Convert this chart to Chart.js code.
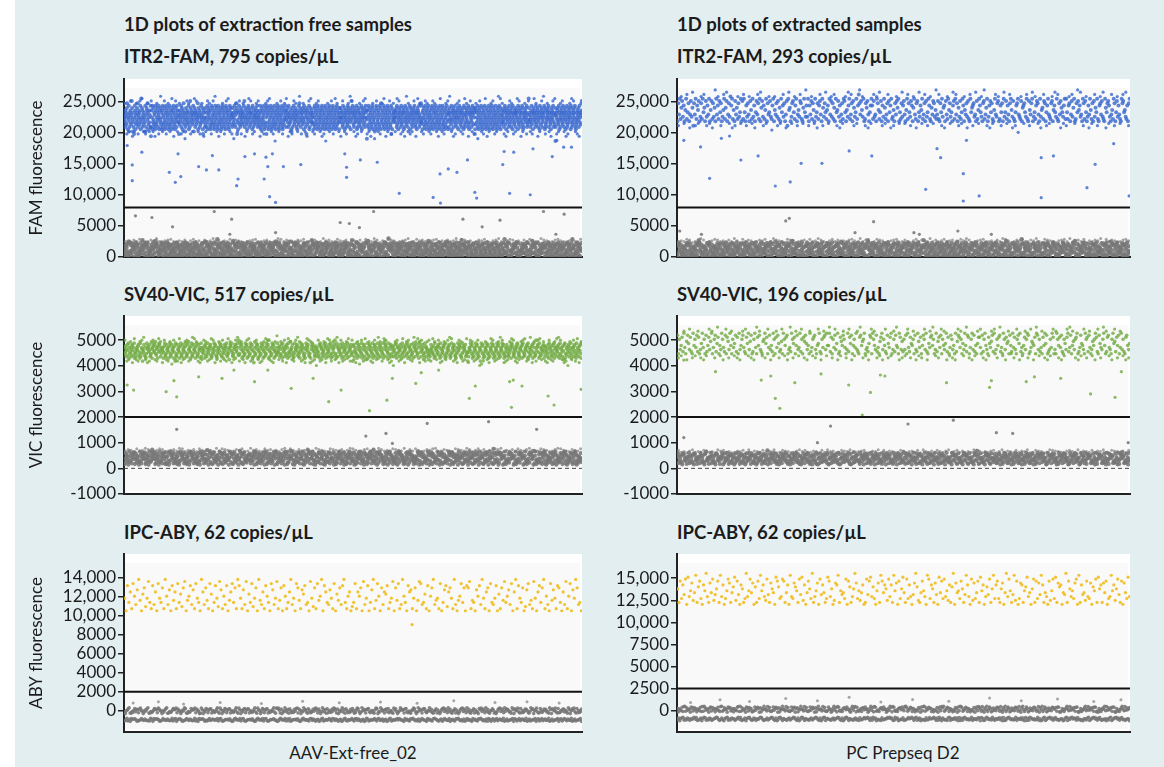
<!DOCTYPE html>
<html>
<head>
<meta charset="utf-8">
<script src="https://cdn.jsdelivr.net/npm/chart.js@4.4.1/dist/chart.umd.min.js"></script>
<style>
  body { margin: 0; background: #fff; font-family: Lato, "DejaVu Sans", sans-serif; }
  #page { position: relative; width: 1164px; height: 767px; overflow: hidden; }
  #bg { position: absolute; left: 15px; top: 0; right: 0; bottom: 0; background: #e3eef1; }
  .hd { position: absolute; font: 700 18.5px/22px Lato, sans-serif; color: #1b1b1b; white-space: nowrap; }
  .xl { position: absolute; font: 400 17px/20px Lato, sans-serif; color: #1b1b1b; white-space: nowrap; transform: translateX(-50%); }
  canvas { position: absolute; }
</style>
</head>
<body>
<div id="page">
  <div id="bg"></div>
  <div class="hd" style="left:124px;top:13px">1D plots of extraction free samples</div>
  <div class="hd" style="left:677px;top:13px">1D plots of extracted samples</div>
  <div class="hd" style="left:124px;top:45px">ITR2-FAM, 795 copies/µL</div>
  <div class="hd" style="left:677px;top:45px">ITR2-FAM, 293 copies/µL</div>
  <div class="hd" style="left:124px;top:283px">SV40-VIC, 517 copies/µL</div>
  <div class="hd" style="left:677px;top:283px">SV40-VIC, 196 copies/µL</div>
  <div class="hd" style="left:124px;top:521px">IPC-ABY, 62 copies/µL</div>
  <div class="hd" style="left:677px;top:521px">IPC-ABY, 62 copies/µL</div>
  <div class="xl" style="left:353px;top:743px">AAV-Ext-free_02</div>
  <div class="xl" style="left:903px;top:743px">PC Prepseq D2</div>
  <canvas id="c0"></canvas><canvas id="c1"></canvas>
  <canvas id="c2"></canvas><canvas id="c3"></canvas>
  <canvas id="c4"></canvas><canvas id="c5"></canvas>
</div>
<script>
// droplet index span of every well
const W = 1000;

// axis ticks
const famTicks = [0, 5000, 10000, 15000, 20000, 25000];
const vicTicks = [-1000, 0, 1000, 2000, 3000, 4000, 5000];
const abyFreeTicks = [0, 2000, 4000, 6000, 8000, 10000, 12000, 14000];
const abyExtTicks = [0, 2500, 5000, 7500, 10000, 12500, 15000];
const yRanges = [[0, 28700], [0, 28700], [-1000, 5940], [-1000, 5940], [-2240, 16520], [-2450, 17750]];
const thresholds = [8000, 8000, 2000, 2000, 2000, 2500];

// droplet bands: one letter per droplet, 'a' = lowest level, each next letter one step up
const bandLevels = {
  famFreePos: [17180, 380], famExtPos: [18660, 360], famFreeNeg: [0, 124], famExtNeg: [0, 124],
  vicFreePos: [3778, 58], vicExtPos: [3750, 80], vicFreeNeg: [140, 27], vicExtNeg: [150, 24],
  abyFreePos: [9220, 220], abyExtPos: [10720, 220],
  abyFreeNegHi: [-300, 32], abyFreeNegLo: [-1120, 17], abyExtNegHi: [-200, 35], abyExtNegLo: [-1170, 21]
};

const famFreePos = [
  'nopkrmqlsuojpntikqmrolpvsniqkmhotrjplnqsmukoprlqntjmwoskrpnlqiomtikpsrnuqjlomrpktg',
  'krojtmsnlqpkjtrmlosnqkptjromnslqjkrtpomlsjnqktrpmolsjqnktprlmojsqnkrtpmljosqnktrpm',
  'omhrlpqntkosmjrpuqlnoiksmqprnlotjqmkvspnrolqmtpinsqkrolpmqnujsoprkmlqtonpsjhmrqokn',
  'sloqkmtjrpnsqolkjrmtnpsloqkjmrtpnlsoqkjtmrpnlsqojkmtrnpslqokjmtrnspqlokjmrtnspqolk',
  'psqmontlrkpqushmnjqrtlopkmsqnrolpqtmvkosnrpljqmotsnkrpqlomqsjtnkpromlqspnortkmqlo',
  'pnrtkjmqslonrptkjmqlsohrtpkmjqslnortpkjmqslonrtkpmjqlsonrtpkjmqslonrptkjmqslnortpk',
  'nrqomsktplqonmrjispkoqtnlrmpsoqknjrpmltouqsnkrmpqolsnjtrmqokphslrnqomtjkpsqnrmolp',
  'mqjsotklrnpmqjstoklrnpmqjsotkrlnpmqjstoklrnpmjqsotklrnpmqjsotklrnpmqjsoktlrnpmqjso',
  'msoqnrpkltomqsjnprkoqmltsnrpkqomjsvnrqtpolkmsqrnpotjmkqsrnlopqmktsjnorpqlmskotqnrf',
  'orlktpsjnmqorlktpsjnmqoirlktpsjnmqorlktpsjunmqorlktpsjnmqorlktpsjnmqorlkthpsjnmqor',
  'qnopmrsktlqojnpmsrqkotlnpmqsrjkoqtnmplsrokqinmptjsoqrlnkpmsqotrnlkpqjmsorqntkplomu',
  'tmnqjrolspktnmqjrlospktmnqjrolpsktmnjqrolspktmqnjrolspkmtnqjrolsptkmnqjrloskptmnqj',
  'rkpqsnomltjqrnpskomqtrlnpokqsmjrotnpqlskmrqonpjtsklqmpornsqktmljpqrsonkmqtplrsoqh',
  'jslrmoqtknpjsrlmoqtknpjslrmqotknpjslrmoqktnpjslrmoqtknjpslrmoqtknpjlsrmoqtknpjslrm',
  'opqnmkrstloqjpnrmsqkotlpnrqmksojtqpnlrmqskopqrnjtmlsoqkprnmqtsljokpqnrmsoqtkplnmw',
  'sqnpkomrtlqnjspqormkntlqpsorkmnqjtpolsrqkmnopqtsjrklmonqpsrtkoqnmljpsqrontkmqplse',
  'kpqonrsmltqjnpkorsqmnltpqkosrnjmqptklosnrqmpojtskqnlmrpoqstknjlmqorpsnkqtmolprqv'
];
const famFreePosEdge = [
  'uhivgiuhvwihuiviguhxivhuiwgviuhifvuhiwvihugivuhvxigiuhvwihfuivhugiwvhiuvgihuvwiheu',
  'ivhuwgihvuixhuigvwihuvigheuivhwuigvihuxvighuivwhigufvihuwgivhuiwvhigxuhivgwuihvui',
  'hvuigwihuvxighuvihwugvihufvihwgiuvhixwuhgivuhiwvgiuhvihwugivxhuigvwhiuvighuwvihgu'
];
const famExtPos = [
  'jrmtkpslqjotknrjmslphrmtkqosjlrktnpjslqmtjoskrlpjtmqksnrjlotkpsjmrluqtkojsmpkrlntj',
  'sktnjqlrmjsoktlqjnsmrktjpslqkotjrmnslkqtjomrlskpjtnqlrjmshtopjlrsnkqtjmolsrkjptnlq',
  'ltjqmskrojtlnrkqsmjtplrnkoqjtmslrkpjtnoslqjmrktsnjolqtkmrjsplntkqvrmsoltjkrpsmjnqt',
  'qkslmjtroknsjqltpkmrjsnqtklojrmsptjnkrlqsmjotkrnlsqjptmkrsjnlqotkmrjslntqkjpmsrlok',
  'mskjrntlpqjsmktorlnjqsktmrjplskntqjomrlskjtnpqrlmjskotqnljrskmptjlqsnrkjotmlrsjkqn',
  'rjtlnskqmjrtolskjnqrtmlksjpqrnltkjsomrtjlnkqsrmjtlopksrjnqtmlkrsjoqnltkjrmspnlqtk',
  'tnkqrjmslptjkrnsoqlmjtrksnjlqmtokrjslpntkjqrmslkjtpnrsqljmoktrjnslqmkjtrsnolkqjrt'
];
const famExtPosEdge = [
  'huivgwhiuvhigxuhvwighuivhuigvwhiufuhivgwiuhvixhuigvhwiuvhgiuwvhixuhgivuwhivghuiw',
  'ivhugwivhuixvhguiwvhiugvhwiuxhgivuhwivgheuivhwuigvhiuwvgihuvixwhugivhuwgivhuivwh'
];
const famFreeNeg = [
  'dkapgmrchtbufqiesjnoaqkgtmdrpbhclfisenjwkoqdgtrmbpshcleifjnqaktdmgovrsphlcfienjqt',
  'hcqkamsgeojtbnrdlfpicqhkamgseojtbrndlfpihcqakmsgeotjbnrdlfpiqhckamsgeojtnbrdlfpihc',
  'mfbqsdjlathueocrpkgnimsbfqdaltjehrckxpgnsbmfqdjltaehorckpgnsimbqfdljatvhcrokpgbsn',
  'tfadmhqpcsljgonkerbitfamdhqpcsjlgonkrebifatmdhqpcslgjonkerbitafdmhqpcsljgnoketrbiu',
  'hrcnetqakmfogdlbjspirnchqtaeklmugfdjbpsrinhcqteakgomlfbjdpsrnihqcetakmgolfbwjspr',
  'bmeqgtjlonsafchpkirdbmqegtjlnosafcphkirdmbeqgtjlonsfachpkirdbmeqgjtlonsafchpkidrbw',
  'qjgaombfteshdrnclkpiqgjamobftsehdvrnlckpgiqajbmotsfhedrnlcpkigqajmbotfsehdrncylkpi',
  'snokfbticqamehrglpjdsnkofbtciqamhergpljdsnokbftcqiamehrglpjdsnokfbticqaemhrglpjdv',
  'tbkfhosdmajqcigrpelnbtfkhsodamjcqgirpuentkbhfsodjmaqgcripeltnbfkohsdmjwqcgripltnek',
  'glatpdonjhfcqrbkmesiglaptdonjhcfqrbkmseigaltpdnojhfcqrkbmesiglatpdonjhfqcrbkmesixg',
  'goeqmticsbahjdpkflrnoqgetmcsibahdjpklfrgnqoemitcsbhjadkpfvnrgqoemticbsahjdplkfrngo',
  'lsanpfcgjrthmdoqbikeasnlpfgcrjhtmdqobkiesnlapcfgjrthdmoqbiksexlnapfcjgrthmdoqbkisl'
];
const famFreeNegEdge = [
  'uvtwuxvtuwvyutvwxutvuwtvxuvtwuvyuwtvuxtwvutuvwxtuvwutvyxuwvtuwvxtuvwtuyvwutxvuwtv',
  'vuwtxvuywtvuxwvtuvwytuxvwutvwxuvtwuvytxwuvtuwvxutvwyutvxwuvtwuxvtuywvtuwxvutvwutx'
];
const famExtNeg = [
  'cprtgjmqadhfnlobkeisrpctgjqmadfhnlbokesicrpwtjgmqdahfnolbkiescprtgjmaqdhfnlobekis',
  'kpfbrmdajsheqclotgnikpbfrmdajshqeclogtnikpfbmrdajsheqclotignkpfbrmdjasheqcltognik',
  'bhqmdtakgrjfleonsicpbqhmtdakrgjfluneosicqpbhmdtkagrjfelnosicpqbhmtdvkgrjflenosciqpb',
  'eqjtlgcnbaophsdirmkfeqjltgcnbapohsdrimkfeqjtglcnbaophsdirmkfqejtlgcnbaophsdirmkfeu',
  'ieslgpbmrcaohtkdnjfqeilsgbpmrcoahtdknjqfiselgpbmcraowtkdjnfqiesglpbmrcoahktdnjfqie',
  'nasdfrckohtqbjeilpmgnasdrfckhotqbjeilpgmnasdfrckohtbqjeilpmgnsadfrckohtqbjielpmgnw',
  'nqfajrtdmocghpkslbienqafjrdtmcoghkpslbeiqnfajrtdmocgphksblienqfajrudmcogphkslbienq',
  'ithmqbegalkosndjcrpfithqmbegalkosdnjcrfpitmhqbegalksondjcrpfithmqbgealkosndjcrpfiv',
  'ctkohbjqmeafdsrgnlpictokhbjmqexfsdrgnlipctkobhjqmeafdrsgnlpicktohbjqmeafdsrgnlpict',
  'rdpianfmjhstqgolbeckrdpaifnmjhtsqglobekcrdpianfjmhstqgvlbecrkdpainfmjhsqtgolbeckrd',
  'gmeljsaqcpfkrbntdihogmleisjaqcfpkrbtndihogmuejsqacpfkbrntdhiogmlejsaqpcfkrbntdihog'
];
const famExtNegEdge = [
  'tvuxwtuvywtuvxwuvtwuyvtxuwvtuwvxtuywvutxwvtuvwuxtvywutvxuwtvuwxvtyuwvtuxwvtuvwxtu',
  'wutvxuwvtyuwtvxuvwtuxvywtuvwxtuvtwuyxvtuwvxutwvyutxwvutvwxuytvwuxtvuwvytxuwvtuwxv'
];
const vicFreePos = [
  'qmnrkposltjqnmpkrsolqtjnmkpqorslnjtkmqphonslqkjmtprqnosklmpjqtrnosumlqpjrntsokqmp',
  'oqjnrtlkmspoqjnrtlkmspoqjnrhtlkmspoqjnrtlkmspoqjnrtlkmsupoqjnrtlkmspoqjnrtlkmspoqj',
  'tkqnpmorjslqkntpmoqrsljkpnmqtosrlkjnpqmotrslkqnjpmsorqtlknmpiqsrotnlkmqpsjrontqlv',
  'lmtrpsjoknqlmtprsjoknqlmtrpsjokgnqlmtrpsjoknqlmtrpsjoknqlmtrpsjvoknqlmtrpsjoknqlmt',
  'onqrkmplsjtqnokprmlsqjtnkmoupqlsnjkmtqoprslnkqmjotrpsnqlkmjptroqsnlkmgjprtsoqnlk',
  'rpmqoknlsjtrqpmknoslqtjrmpknosqltjmrkpnqsvlmjtrkqpnoslmqjtrknposqlmjtnrkpoqslmnh',
  'rskoqnmtjlprskoqnmtjlprskoiqnmtjlprskoqnmtjlprskoqnmtjlprskoqnmtjlpurskoqnmtjlprsk',
  'mqrokpnsltjmqrnkposlqjtmnrkopqslmtjnrqkposlmnjtqrkopsnlmqjturnkposqmljtnrqkpomiln',
  'kpsoqmnrljtkpqomrnslqjtkpmonrqsljtkmnpqrosljkmtnqprsolkjmqntporslqkjmtnrpqosklmnh',
  'nkqpotrmsjlnkqpotrmsjlnkqphotrmsjlnkqpotrmsjlnkqpotrmsjlnkqpotrmsjlnkqpotrmsjlnkqp',
  'snqlkmoprjtsqnlkmporjqtsnlmkpqorjstnkmlpqorsjtnkqmplorsjntqkmlvoqrsnjtkmqlpornsj',
  'plrnqokmsjtqpnlrkosmtjqlpnrokqsmjtlpqnkroistjmlqpnrskomqtjlpnqrksomjtlqnpkrosmjt'
];
const vicFreePosEdge = [
  'vhiugwihuvxighuvihwugvihufvihwgiuvhixwuhgivuhiwvgiuhvihwugivxhuigvwhiuvighuwvihguy',
  'iuhvgwuihvxuhigwvuhievhiugwvhuixgvhiuwhvigufvhwiuhgvixuhwvigheuvhiwguvihxuwgvihuv',
  'hwuivghuivxwhigvuhiwgvuhivefhuigwvhiuxvghiuwvhgiuvwhixguhvwiuhgvihuwxvigheuivhwgu'
];
const vicExtPos = [
  'sjqlnrktmjpsolrkjtnqmskrjlotmqjsknrlptjmqskorjnltqmksjrpltnjqmoskrjtlnqsmkjrotlpsj',
  'kqtmjrnslkjpqtorjmslnktqjrmsoklpjtqnrsjlmktqorjnslmtkqjrpsolnjtkmqrsljnotkjqmrsltn',
  'ntkrjqmslotjkrpnsqmjltkrosjnqmtlkjrsnpqtjlmkosrjtqnlskmjprtlqnkjsomrtjlqksnmjtrlpk',
  'qlsjtmkronqjslktpmrjnsqltkjomrsnqjltkprmsjqnlotkrjmsqlnjtkpsrmqjoltnksrjmqtlsknjor',
  'rmjskqtnljrompsktjlqnrskmjtqlropjsnktmrljqsotkmjnrlqtsjkmponrjtslqkmjrntosjklqmtrj',
  'ljtqnrmskjqolrtkmsjnplqrtjkmsonljtqrksmjlpnqtrkjsomlqtnjkrsmljqtopkrnsjmtlqkjrsnlo'
];
const vicExtPosEdge = [
  'hiugvhiuhgivuhwigvhuihguvihgwuihvgiuhvigwhuivhguihvguiwhvgiuhvgiuwhigvuhigvhiuwgh',
  'ivhugihvguwihvugihgvuiwhgiuvhgiuvhwigujhvgiuhvgwiuhgivuhgivwuhgivhuigvhwuigvhuigh'
];
const vicFreeNeg = [
  'sbjdqnhlafteogkcrpmisbjqdnhlfaetogckrpmisjbdqnhlaftoegkwrmpisbjdnqhlafteogkcrpmisb',
  'dlbmrgaetqhnokscjfpidlbmrgaetqhnoksjcfpidblmrgaetqhnokscjfpidlbmrgeatqhnkoscjfpidv',
  'ohaktremcqbpjsgfldnioahktrecmqbjpsgfdlnoihaktremqcbpjsfgldnoiahkuremcqbpsjgfldnioh',
  'oqgckhnfrmatjpsbdleioqgckhnfrmatjpsbdleioqgckhfnrmatjpsbdleioqgkchnfrmatjpsbdleiou',
  'kjtnbgqahdomlfersicpkjntbgaqhdmolfvriscpjktnbgqhadomlfesricpkjtnbgqahdomlferscipkj',
  'fjsaepmbhdkorlticqngfjsaepmbhdkorltciqngfjsaepbmhdkorlticqngfjaseppmbhdkorlticqngw',
  'flcrhnasjdqtpgmokibeflcrnhsajqdtpgomkbieflrchnasjdtqpgmokibefclrhnsajdqtpgmoikbefl',
  'mcihtroagdnsqblpekfjmcihtroagdnsqblpekfjmcithroagdnsqbldpekfjmcihtroagnsdqblpekfjm',
  'pagtmjdkqlbncrheosifpagmtjdqklbnrcheosfipgatmjdkqlnbcrheosfipagtmjkdqlbxcrhoesifpa',
  'dsroiqkmalcnthbegfjpdsrioqkmlacnhtbegfjpsdroiqmkalcnthebgfjpdsorqikmaucnthbgefjpds',
  'jeqbolsgtcpanifdmkhrjeqbloscgtpanifdkmhrejqbolsgtcpnaifdmkhrjqebolsgtcpanfidmkhrje'
];
const vicFreeNegEdge = [
  'uwvtxuvywtuvxwtuvwuyxtvuwtxvuwvtyuxwvtuwvxtuyvwutxvwuvtwyuxvtwuvxtuywvutxwvuwtvyx',
  'vtuwxuvtywuvtxwvuytwuxvtuwvxytuwvutxwvuywtvxuwtvuxwytvuwtxvuwyvtuxwvtuwyxvutwvux'
];
const vicExtNeg = [
  'mtcpfjeodarsqhlgkbinmtcfpjeodrasqhlgbkinmctpfjoedarsvhglkbinmtcpfjeodarsqhlgkbnimt',
  'qaldsgkhtnjbperofcimqaldsgkhtnjbperofcimqadlsgkhtnjbpreofcimqaldsgkthnjbperofcimqx',
  'aifkscpjmqhtelrgbdonaikfscpmjqhtlergbdnoaifkscjpmqhtelrgdbonaifksmcpjqhterlgbdonai',
  'qgnhdtbrajlcmsfkeopiqgnhdtrbajlmcsfkoepiqngdhtbrajclmsfkeopiqgnhtdbrajlcmufekopiqg',
  'gebtkpfolaisnqcjmdrhgebtkpfolaisnqcjmdrhgebktpfolaisnqcjmrdhgebtkpfloaisnqcjmdrhgu',
  'elbsojcqdrfnpiagktmhelbsjocqrdfnpaigkthmelbsocjqdrfnpiagtkmhlebsojcqdrnfpiagktmhel',
  'hdmfatprigonqcbjslkehdmfaptrigoqncbjsklehmdfatprigwnqbcjslkehdmfatpriognqcbjslkeh',
  'jrnfcmdiqshakgobletpjrnfcmdiqshakgobletpjrnfcmdiqsahkgobletpjrnfcmdqishakgobletpjr',
  'cnqjsemrhkflabdtpgioncqjsmerhkfaldbtpgoincqjsemrkhflabdtpigoncqjsemrhfklabdtpgionc',
  'tgibrlqoknpcfdhsemajtgbirlqokpncfdhsmeajtgibrlqkonpcfdhsemjatgbirlquknpcdfhsemajtg'
];
const vicExtNegEdge = [
  'xuvtwyuvtxwuvtywxuvtuwvxtyuwvtxuwvytuxwvtuwyvxtuwvtxuyvwtuxwvytuvwxtuwvytxuwvtuxw',
  'tvwuxtyvuwtxvuwytvxuwtvuyxwtvuwxtvyuwvtxuwvytuxwvtuyxwvutwxvuytwvuxtwvyutxwvuwtx'
];
const abyFreePos = [
  'mgskphtnjqvlgorimukhsjpgtmkrhvnjqgslphtkoiruglnsjqhtmkgvpjrlhtogksmiuqhnjsglptkrhv',
  'smhqjugoktimrgvljphsnkgtqjmuhlrgsnhkpvjmgtrlhqosjkgumirhtlnvgspkjqmhtgolrjsvkhnpgi',
  'kthpnrgujmsgkqvhltngrjposhkmugrlthjvnkgspqhmrglutjkohsgnrvjlmhtgkqsiprmhvjglntkrgs',
  'ruhlkgqnsjvmhprgtkjmsgohrluknqjtgpvhsmkrgiqtjlhumgpskrvhnjgtlqmhsrkgpjuhntgqmvrjkg'
];
const abyExtPos = [
  'ohsjqltguknrimvhpsjgqnwkhrmtiloshvkqgjntrhmpuislgqohjwkntmrgphsjvnqkitlhromguspjkt',
  'shmqgvkjrpnhtluiqgmsojwhknrgtlqmhjuskogirqvhnlmjtgsphkowrjnimqghtlsukpjgnrhvsmqoit',
  'kqhvnrgsjoumhtjqkglrwpihmsnkgvtjqohrlgumsjtkniqhpwgrmnjsohlvqkgtirjmshunqgkplthovj',
  'qsjhorgmwktnhlvisgjrqhnpukmgothsjrlvqhmkgsintjuhrpqgmlwhsoknjrtgvhqlmiskjrgpnthuoq',
  'hrmsgjkvnqiotlhsgrmjuk'
];
const abyFreeNegHi = [
  'fajmqtcbhelrgondpskiafmjqtcbheglrondspkiajfmqtbcheglronsdpkiafmjtqcbhegrlonsdpkia',
  'bsmakgrodlpqcjiehntfbsmakgrodlpqcjiehntfbsmakgordlpqcjiehntfbsmkagrodlpqcjeihntfbs',
  'rslcpajgtmfnbqkdheoirscplajgtmnfbqkdehoirslcpjagtmfnbqdkheoisrlcpajgmtfnbqkdheoir',
  'kbemsqhaftjolcnprgdikebmsqahftojlcnpgrdikebsmqhafjtolncprgdiebkmsqhaftjolcnrpgdik',
  'tioebjkqcmfagnrshpldtioebjkqcmfagnrshpldtioebjkqcmfgarnshpldtioebjkqmcfagnrshpldti',
  'polfhbtnaqjmsgcrdkeipolfbhtnqajmsgcdrkeiplofhbtnaqmjsgcrdekiopflhbtnajqmsgcrdkeip'
];
const abyFreeNegLo = [
  'egtcnarmoqlbdhjskfpiegctnarmqolbdhsjkfpiegtcnramoqlbdhjskfpiegtcnarmoqlbhdjsfkpi',
  'lhrcpsebfmkniqgadotjlhrcpsebfmkniqgadotjlhrcpsebfmknqigadotjlhrcpesbfmkniqgadotjlh',
  'jdqsfoibknaeptcgmhlrjdsqfoibknaeptgcmhlrjdqsfoibknaetpcgmhlrjdqsfiobknaeptcgmhlrj',
  'smhgarjnfdqotlekcpbismhgarjnfdqtoleckpbismhgrajnfdqotlekcpbishmgarjnfdqotlekcpbsm',
  'anqdkrelpigtbfochjmsaqndkrelpigtbfochmjsanqdkrelpgitbfochjmsanqdkrlepigtbfochjmsa'
];
const abyExtNegHi = [
  'mblhfqcstdogkjarnepimbhlfqcsdtogkjanrepimblhqfcstdgokjarnpeimblhfqsctdogkjarnepimb',
  'cfrgnqmaoblitkjeshpdcfrgnqmaoblitkjeshpdcfrgnqamoblitkjeshpdcfrgnqmaobltikjeshpdcf',
  'rkjaemtgpbsqfdhclonirkjeamtgpsbqfdhlconirjkaemtgpbsqdfhclonirkjaemgtpbsqfdhclnoirk',
  'fstodhkqncmjbgieplarfstdohkqnmcjbgiepalrfsotdhkqncmjgbieplarftsodhkqncmjbgiepalrfs',
  'pkdshaoitcjrmbenglfqpkdshaoitcjrmbenglfqpkdshaoticjrmbenglfqpkdhsaoitcjrmbenglfqpk',
  'lpdrqbaemhcjntkfsgoilpdqrbaemchjntfksgoilpdrqbeamhcjnktfsgoilpdrqbamehcjntkfsgoilp'
];
const abyExtNegLo = [
  'goamqsdjepkclhntirbfgoamsqdjepkchlntribfogamqsdjeplkchntirbfgoamqsjdepkclhntribfgo',
  'ejnsqhcoagrtkbmifdlpejnsqhcoagrtkbmifdlpejnsqhcoagrtbkmifdlpejnsqhcoagrtkbmifdlpej',
  'bqfglrkntmcpdsjoaiehbqfglkrntmpcdsjoaeihqbfglrkntmcpsdjoaiehbqfgrlkntmcpdsjaoiehbq',
  'scmhkqfoarbndptjgleiscmhkfqoarnbdptjglesicmhkqfoarbdnptjgleiscmkhqfoarbndtpjgleisc',
  'kaeptbhnqsjodmrgicflkaeptbnhqsjomdrgicfalkeptbhnqsjodmrgcifkaleptbhnqsjodmrgicflka'
];

// scattered droplets between the clusters: [droplet position, amplitude]
const famFreeRainPos = [[7,17980],[18,14850],[18,12310],[39,16900],[99,13660],[112,12040],[124,12960],[118,16630],[163,14580],[180,14040],[193,16360],[207,14040],[246,11500],[249,12580],[264,16200],[285,16630],[306,12580],[310,16090],[314,14580],[324,16630],[318,9720],[331,8800],[348,14580],[386,14900],[482,16630],[486,14470],[486,12850],[516,15660],[553,15280],[601,10260],[675,9610],[690,13390],[691,8690],[708,14200],[727,13660],[750,15660],[766,10420],[770,9500],[830,17010],[827,14900],[842,10260],[851,16900],[887,10040],[893,17440],[935,16200],[960,17710],[977,17710],[945,18790]];
const famFreeRainNeg = [[25,6640],[61,6370],[106,4860],[197,7340],[235,6100],[231,3670],[331,3940],[472,5560],[492,5400],[514,4750],[545,7340],[740,6100],[782,4860],[821,5940],[916,7340],[943,3670],[961,6910]];
const famExtRainPos = [[15,18820],[52,17740],[72,12690],[98,19140],[116,19510],[141,15640],[179,16290],[217,11450],[250,12100],[274,15110],[320,15110],[380,17100],[430,16290],[549,10910],[574,17470],[582,16020],[632,13440],[632,9030],[639,18820],[667,9840],[804,9570],[804,16020],[831,16290],[905,11180],[923,14950],[964,18280],[998,9840]];
const famExtRainNeg = [[6,4190],[54,3660],[240,5810],[248,6240],[393,3920],[434,5700],[523,3920],[535,3660],[620,4190],[694,3660]];
const vicFreeRainPos = [[7,3250],[21,3050],[92,2990],[115,2790],[109,3420],[163,3570],[214,3510],[240,3830],[285,3380],[314,3830],[365,3120],[413,3510],[447,2600],[474,3050],[536,2250],[574,2660],[586,3510],[637,3310],[649,3730],[687,3830],[754,2730],[767,3210],[842,3380],[846,2380],[850,3440],[869,3210],[926,2820],[939,2470],[998,3080]];
const vicFreeRainNeg = [[115,1520],[528,1260],[572,1360],[586,970],[662,1750],[796,1820],[901,1520]];
const vicExtRainPos = [[15,4220],[85,3770],[186,3440],[207,3600],[217,2730],[227,2340],[260,3340],[318,3680],[379,3250],[409,2080],[427,2960],[449,3640],[459,3600],[595,3340],[690,3160],[694,3420],[771,3380],[789,3570],[847,3510],[913,2900],[967,2770],[981,3770]];
const vicExtRainNeg = [[15,1200],[310,1000],[339,1650],[510,1730],[610,1880],[705,1390],[741,1360],[996,1000]];
const abyFreeRainPos = [[629,9080]];
const abyFreeRainNeg = [[20,820],[75,950],[130,700],[210,880],[300,760],[390,1000],[470,850],[560,920],[640,780],[720,1050],[810,880],[880,960],[950,820]];
const abyExtRainPos = [];
const abyExtRainNeg = [[30,900],[95,1200],[160,1000],[240,1350],[310,1100],[380,1500],[450,950],[520,1250],[600,1050],[690,1400],[760,1100],[840,1300],[920,1000],[980,1200]];

const BLUE = 'rgba(55,103,205,0.8)';
const GREEN = 'rgba(112,170,66,0.8)';
const YELLOW = 'rgba(240,188,30,0.9)';
const GRAY = 'rgba(118,118,118,0.88)';
const GRAY_EDGE = 'rgba(128,128,128,0.7)';

function droplets(rows, levels) {
  const s = rows.join('');
  const [lo, step] = levels;
  return Array.from(s, (c, i) => ({ x: (i + 0.5) * W / s.length, y: lo + (c.charCodeAt(0) - 97) * step }));
}
const pairs = list => list.map(([x, y]) => ({ x, y }));
const fmt = v => Math.abs(v) >= 10000 ? v.toLocaleString('en-US') : String(v);
const L = bandLevels;

// each panel: [droplets, dot radius, colour] for the negative and positive clusters
const panels = [
  { yTitle: 'FAM fluorescence', ticks: famTicks, zero: false, sets: [
    [droplets(famFreeNeg, L.famFreeNeg), 2.2, GRAY], [droplets(famFreeNegEdge, L.famFreeNeg), 1.5, GRAY_EDGE], [pairs(famFreeRainNeg), 1.6, GRAY],
    [droplets(famFreePos, L.famFreePos), 2.0, BLUE], [droplets(famFreePosEdge, L.famFreePos), 1.6, BLUE], [pairs(famFreeRainPos), 1.6, BLUE]] },
  { yTitle: '', ticks: famTicks, zero: false, sets: [
    [droplets(famExtNeg, L.famExtNeg), 2.2, GRAY], [droplets(famExtNegEdge, L.famExtNeg), 1.5, GRAY_EDGE], [pairs(famExtRainNeg), 1.6, GRAY],
    [droplets(famExtPos, L.famExtPos), 2.0, BLUE], [droplets(famExtPosEdge, L.famExtPos), 1.6, BLUE], [pairs(famExtRainPos), 1.6, BLUE]] },
  { yTitle: 'VIC fluorescence', ticks: vicTicks, zero: true, sets: [
    [droplets(vicFreeNeg, L.vicFreeNeg), 2.1, GRAY], [droplets(vicFreeNegEdge, L.vicFreeNeg), 1.5, GRAY_EDGE], [pairs(vicFreeRainNeg), 1.6, GRAY],
    [droplets(vicFreePos, L.vicFreePos), 1.9, GREEN], [droplets(vicFreePosEdge, L.vicFreePos), 1.6, GREEN], [pairs(vicFreeRainPos), 1.6, GREEN]] },
  { yTitle: '', ticks: vicTicks, zero: true, sets: [
    [droplets(vicExtNeg, L.vicExtNeg), 2.1, GRAY], [droplets(vicExtNegEdge, L.vicExtNeg), 1.5, GRAY_EDGE], [pairs(vicExtRainNeg), 1.6, GRAY],
    [droplets(vicExtPos, L.vicExtPos), 1.8, GREEN], [droplets(vicExtPosEdge, L.vicExtPos), 1.6, GREEN], [pairs(vicExtRainPos), 1.6, GREEN]] },
  { yTitle: 'ABY fluorescence', ticks: abyFreeTicks, zero: false, sets: [
    [droplets(abyFreeNegHi, L.abyFreeNegHi), 1.8, GRAY], [droplets(abyFreeNegLo, L.abyFreeNegLo), 1.8, GRAY], [pairs(abyFreeRainNeg), 1.5, GRAY_EDGE],
    [droplets(abyFreePos, L.abyFreePos), 1.6, YELLOW], [pairs(abyFreeRainPos), 1.6, YELLOW]] },
  { yTitle: '', ticks: abyExtTicks, zero: false, sets: [
    [droplets(abyExtNegHi, L.abyExtNegHi), 1.8, GRAY], [droplets(abyExtNegLo, L.abyExtNegLo), 1.8, GRAY], [pairs(abyExtRainNeg), 1.5, GRAY_EDGE],
    [droplets(abyExtPos, L.abyExtPos), 1.6, YELLOW], [pairs(abyExtRainPos), 1.6, YELLOW]] }
];

// white plot frame with a faint grey inner field
const plotBg = {
  id: 'plotBg',
  beforeDraw(chart) {
    const { ctx, chartArea: a } = chart;
    ctx.save();
    ctx.fillStyle = '#ffffff';
    ctx.fillRect(a.left, a.top, a.right - a.left, a.bottom - a.top);
    ctx.fillStyle = '#f9f9f9';
    ctx.fillRect(a.left, a.top + 9, a.right - a.left - 2, a.bottom - a.top - 12);
    ctx.restore();
  }
};

Chart.defaults.font.family = 'Lato, "DejaVu Sans", sans-serif';

const rowTops = [71, 308, 546];

panels.forEach((p, i) => {
  const col = i % 2, row = Math.floor(i / 2);
  const canvas = document.getElementById('c' + i);
  const cw = col === 0 ? 577 : 558;
  canvas.width = cw; canvas.height = 200;
  canvas.style.left = (col === 0 ? 15 : 592) + 'px';
  canvas.style.top = rowTops[row] + 'px';
  const yw = col === 0 ? 109 : 85;
  const [ymin, ymax] = yRanges[i];
  const thr = thresholds[i];

  // every droplet drawn as its own dot
  const datasets = [
    { data: [{ x: 0, y: thr }, { x: W, y: thr }], showLine: true, borderColor: '#111', borderWidth: 2, pointRadius: 0, order: 0 }
  ];
  if (p.zero) {
    datasets.push({ data: [{ x: 0, y: 0 }, { x: W, y: 0 }], showLine: true, borderColor: '#444', borderWidth: 1, borderDash: [4, 3], pointRadius: 0, order: 1 });
  }
  p.sets.forEach(([data, r, color]) => datasets.push({ type: 'bubble', data, backgroundColor: color, borderWidth: 0, radius: r, order: 2 }));

  new Chart(canvas, {
    type: 'scatter',
    data: { datasets },
    plugins: [plotBg],
    options: {
      responsive: false,
      animation: false,
      events: [],
      layout: { padding: { top: 8, right: col === 0 ? 10 : 20, bottom: 0, left: 0 } },
      plugins: { legend: { display: false }, tooltip: { enabled: false } },
      scales: {
        x: {
          type: 'linear', min: 0, max: W,
          ticks: { display: false },
          grid: { display: false },
          border: { color: '#222', width: 2 },
          afterFit: s => { s.height = 14; }
        },
        y: {
          type: 'linear', min: ymin, max: ymax,
          afterBuildTicks: s => { s.ticks = p.ticks.map(v => ({ value: v })); },
          afterFit: s => { s.width = yw; s.paddingTop = 0; s.paddingBottom = 0; },
          ticks: { color: '#1b1b1b', font: { size: 17 }, padding: 2, autoSkip: false, callback: v => fmt(v) },
          grid: { drawOnChartArea: false, drawTicks: true, tickLength: 6, color: '#222', lineWidth: 1.5 },
          border: { color: '#222', width: 2 },
          title: { display: !!p.yTitle, text: p.yTitle, color: '#1b1b1b', font: { size: 17 }, padding: { top: 11, bottom: 0 } }
        }
      }
    }
  });
});
</script>
</body>
</html>
